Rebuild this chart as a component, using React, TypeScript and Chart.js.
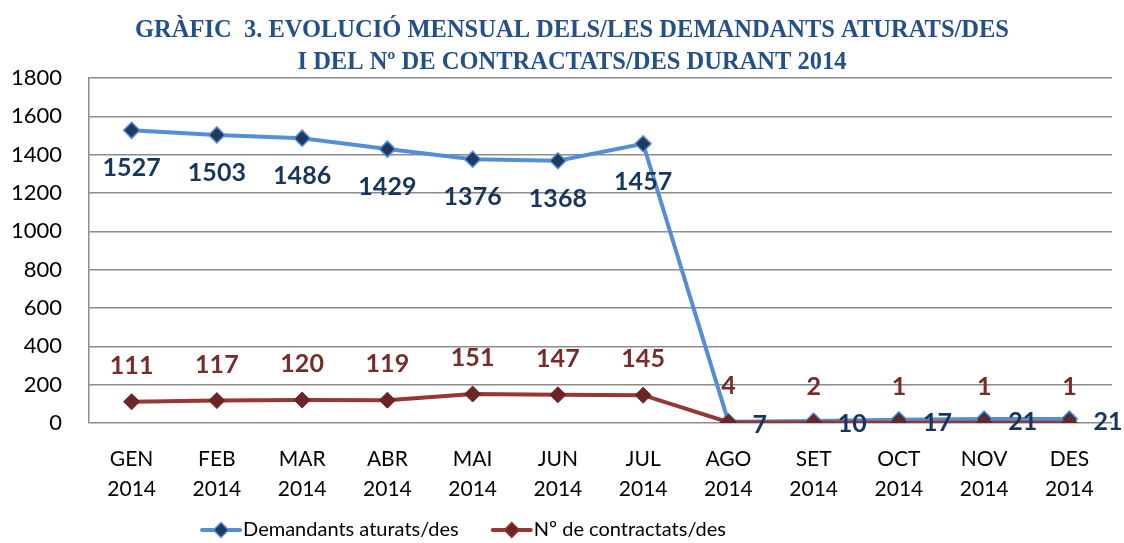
import React, { useEffect, useRef } from 'react';
import { Chart, registerables } from 'chart.js';

Chart.register(...registerables);

const W = 1124;
const H = 543;

const months = ['GEN', 'FEB', 'MAR', 'ABR', 'MAI', 'JUN', 'JUL', 'AGO', 'SET', 'OCT', 'NOV', 'DES'];
const year = '2014';
const demandants = [1527, 1503, 1486, 1429, 1376, 1368, 1457, 7, 10, 17, 21, 21];
const contractats = [111, 117, 120, 119, 151, 147, 145, 4, 2, 1, 1, 1];
const seriesNames = ['Demandants aturats/des', 'Nº de contractats/des'];
const titleLines = [
  'GRÀFIC  3. EVOLUCIÓ MENSUAL DELS/LES DEMANDANTS ATURATS/DES',
  'I DEL Nº DE CONTRACTATS/DES DURANT 2014',
];
const yMin = 0;
const yMax = 1800;
const yStep = 200;

const BLUE_LINE = '#558ED5';
const BLUE_MARK = '#1F3A5F';
const BLUE_TEXT = '#17365D';
const RED_LINE = '#953735';
const RED_MARK = '#6A2524';
const RED_TEXT = '#772C2A';
const TITLE_COLOR = '#24508A';
const GRID = '#8C8C8C';

const drawDiamond = (ctx: CanvasRenderingContext2D, x: number, y: number, r: number, fill: string, stroke: string) => {
  ctx.beginPath();
  ctx.moveTo(x, y - r);
  ctx.lineTo(x + r, y);
  ctx.lineTo(x, y + r);
  ctx.lineTo(x - r, y);
  ctx.closePath();
  ctx.fillStyle = fill;
  ctx.fill();
  ctx.lineWidth = 1.5;
  ctx.strokeStyle = stroke;
  ctx.stroke();
};

const decorPlugin = {
  id: 'decor',
  afterDatasetsDraw(chart: any) {
    const ctx: CanvasRenderingContext2D = chart.ctx;
    chart.data.datasets.forEach((ds: any, di: number) => {
      const meta = chart.getDatasetMeta(di);
      meta.data.forEach((pt: any, i: number) => {
        const v = ds.data[i];
        ctx.save();
        ctx.font = 'bold 25px Lato';
        ctx.textBaseline = 'middle';
        if (di === 0) {
          ctx.fillStyle = BLUE_TEXT;
          if (v >= 100) {
            ctx.textAlign = 'center';
            ctx.fillText(String(v), pt.x, pt.y + 38);
          } else {
            ctx.textAlign = 'left';
            ctx.fillText(String(v), pt.x + 24, pt.y + 3);
          }
        } else {
          ctx.fillStyle = RED_TEXT;
          ctx.textAlign = 'center';
          ctx.fillText(String(v), pt.x, pt.y - 36);
        }
        ctx.restore();
      });
    });
  },
  afterDraw(chart: any) {
    const ctx: CanvasRenderingContext2D = chart.ctx;
    ctx.save();
    // title
    ctx.font = 'bold 24.5px "Liberation Serif"';
    ctx.fillStyle = TITLE_COLOR;
    ctx.textAlign = 'center';
    ctx.textBaseline = 'middle';
    ctx.fillText(titleLines[0], 572, 31);
    ctx.fillText(titleLines[1], 572, 63);
    // legend
    ctx.font = '20px Lato';
    const symW = 38;
    const gapText = 3;
    const gapItem = 34;
    const widths = seriesNames.map((n) => ctx.measureText(n).width);
    const total = widths[0] + widths[1] + 2 * (symW + gapText) + gapItem;
    let x = 464 - total / 2;
    const ly = 530;
    const styles = [
      { line: BLUE_LINE, mark: BLUE_MARK },
      { line: RED_LINE, mark: RED_MARK },
    ];
    seriesNames.forEach((name, i) => {
      const st = styles[i];
      ctx.strokeStyle = st.line;
      ctx.lineWidth = 4;
      ctx.lineCap = 'round';
      ctx.beginPath();
      ctx.moveTo(x, ly);
      ctx.lineTo(x + symW, ly);
      ctx.stroke();
      drawDiamond(ctx, x + symW / 2, ly, 7.5, st.mark, st.line);
      ctx.fillStyle = '#000';
      ctx.textAlign = 'left';
      ctx.textBaseline = 'middle';
      ctx.fillText(name, x + symW + gapText, ly);
      x += symW + gapText + widths[i] + gapItem;
    });
    ctx.restore();
  },
};

export default function App() {
  const ref = useRef<HTMLCanvasElement>(null);
  useEffect(() => {
    document.body.style.margin = '0';
    const canvas = ref.current!;
    const chart = new Chart(canvas, {
      type: 'line',
      data: {
        labels: months.map((m) => [m, year]),
        datasets: [
          {
            label: seriesNames[0],
            data: demandants,
            borderColor: BLUE_LINE,
            borderWidth: 4,
            pointStyle: 'rectRot',
            pointRadius: 8,
            pointBackgroundColor: BLUE_MARK,
            pointBorderColor: BLUE_LINE,
            pointBorderWidth: 1.5,
            tension: 0,
            order: 1,
          },
          {
            label: seriesNames[1],
            data: contractats,
            borderColor: RED_LINE,
            borderWidth: 4,
            pointStyle: 'rectRot',
            pointRadius: 8,
            pointBackgroundColor: RED_MARK,
            pointBorderColor: RED_MARK,
            pointBorderWidth: 1,
            tension: 0,
            order: 0,
          },
        ],
      },
      options: {
        responsive: false,
        animation: false,
        layout: { padding: { left: 0, right: 12, top: 78, bottom: 0 } },
        plugins: {
          legend: { display: false },
          title: { display: false },
          tooltip: { enabled: false },
        },
        scales: {
          x: {
            offset: true,
            grid: { display: false, drawTicks: false },
            border: { display: false },
            ticks: {
              color: '#000',
              font: { family: 'Lato', size: 21, lineHeight: 1.4 },
              padding: 22,
              maxRotation: 0,
              autoSkip: false,
            },
            afterFit: (s: any) => {
              s.height = 120;
            },
          },
          y: {
            min: yMin,
            max: yMax,
            grid: { color: GRID, lineWidth: 1.5, drawTicks: false },
            border: { display: true, color: GRID, width: 1.5 },
            ticks: {
              stepSize: yStep,
              color: '#000',
              font: { family: 'Lato', size: 22 },
              padding: 27,
              callback: (v: any) => String(v),
            },
            afterFit: (s: any) => {
              s.width = 89;
            },
          },
        },
      },
      plugins: [decorPlugin],
    });
    return () => chart.destroy();
  }, []);
  return (
    <div style={{ width: W, height: H, overflow: 'hidden', background: '#fff' }}>
      <canvas ref={ref} width={W} height={H} style={{ display: 'block' }} />
    </div>
  );
}
